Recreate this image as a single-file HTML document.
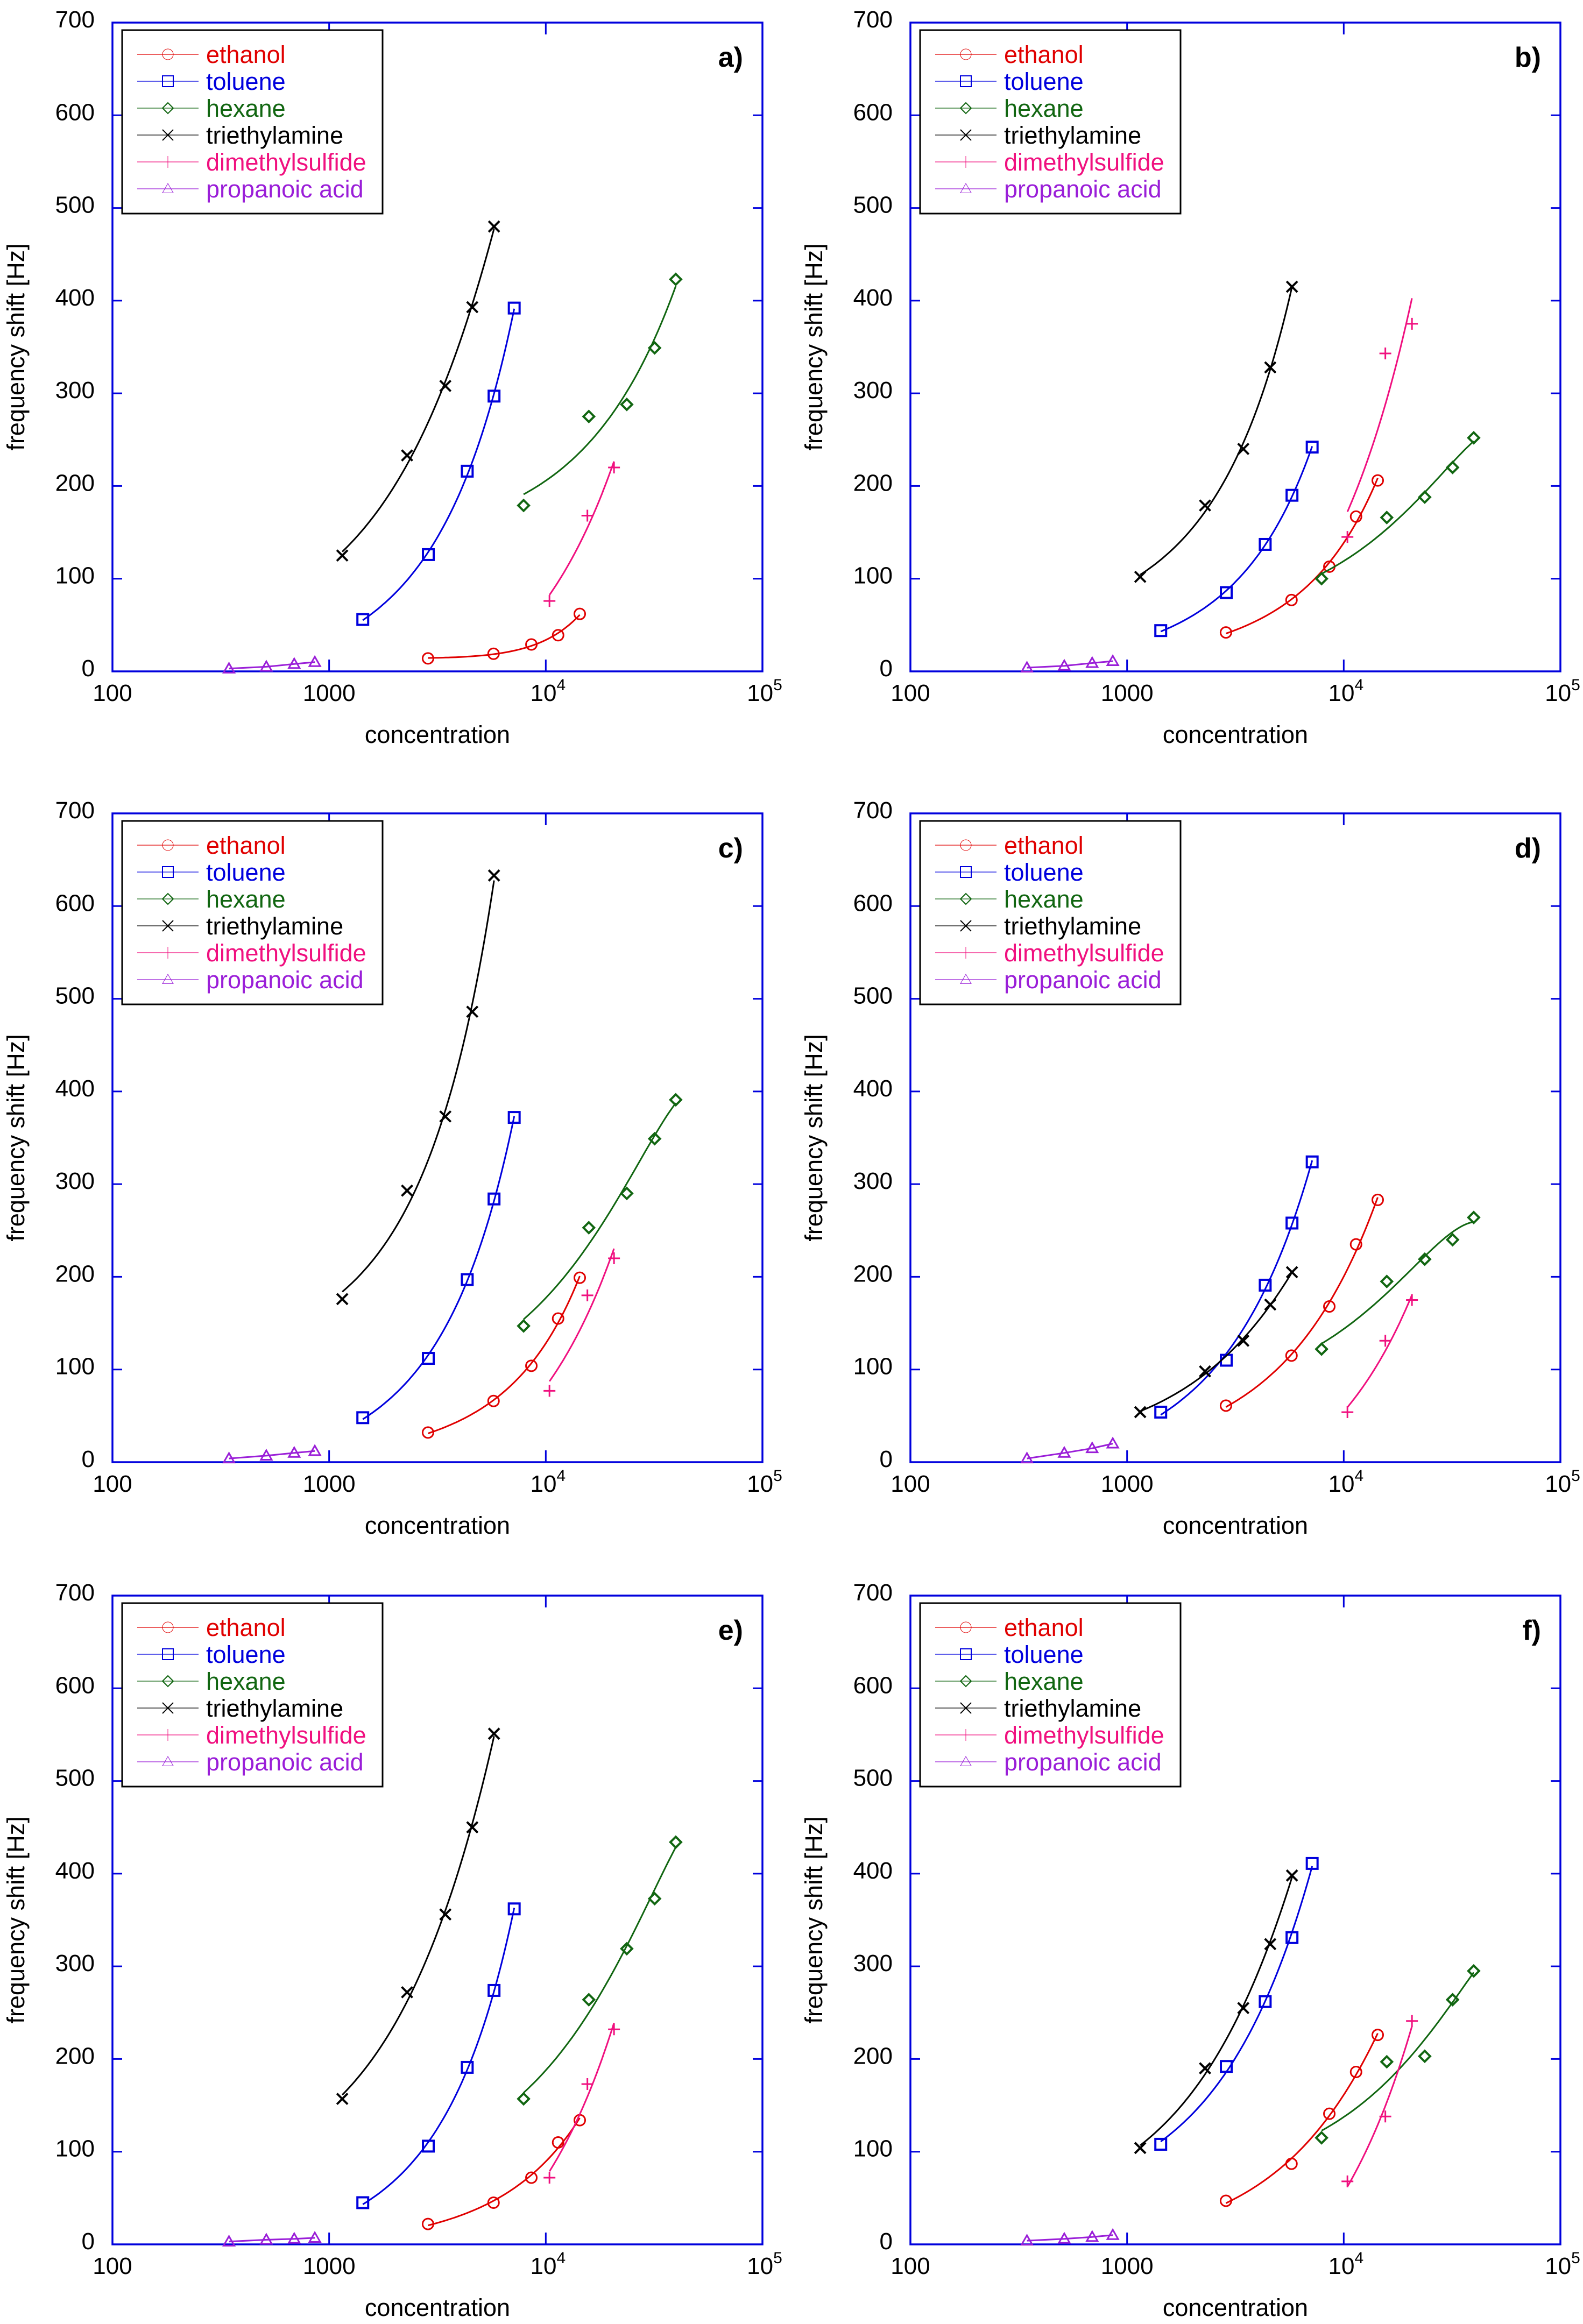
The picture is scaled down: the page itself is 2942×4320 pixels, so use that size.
<!DOCTYPE html>
<html><head><meta charset="utf-8"><style>
body{margin:0;background:#fff}
svg{display:block;font-family:"Liberation Sans",Arial,sans-serif}
</style></head><body>
<svg id="fig" width="2942" height="4320" viewBox="0 0 2942 4320" xmlns="http://www.w3.org/2000/svg"></svg>
<script>
const substances = ["ethanol","toluene","hexane","triethylamine","dimethylsulfide","propanoic acid"];
const colors = ["#e00000","#0000dd","#116611","#000000","#f0107f","#9a1ed8"];
const markers = ["circle","square","diamond","x","plus","triangle"];
const concEthanol = [2860,5740,8580,11400,14350];
const concToluene = [1430,2870,4340,5770,7150];
const concHexane = [7900,15800,23650,31800,39800];
const concTEA = [1150,2290,3440,4580,5770];
const concDMS = [10400,15560,20650];
const concProp = [345,513,690,859];
const panelLabels = ["a)","b)","c)","d)","e)","f)"];
// frequency shifts [Hz] per panel, order: ethanol, toluene, hexane, TEA, DMS, propanoic
const shiftA = [[14,19,29,39,62],[56,126,216,297,392],[179,275,288,349,423],[125,233,308,393,480],[76,168,220],[3,5,8,10]];
const shiftB = [[42,77,113,167,206],[44,85,137,190,242],[100,166,188,220,252],[102,179,240,328,415],[145,343,375],[4,6,9,11]];
const shiftC = [[32,66,104,155,199],[48,112,197,284,372],[147,253,290,349,391],[176,293,373,486,633],[77,180,220],[4,7,10,12]];
const shiftD = [[61,115,168,235,283],[54,110,191,258,324],[122,195,219,240,264],[54,98,131,170,205],[54,131,175],[4,10,15,20]];
const shiftE = [[22,45,72,110,134],[45,106,191,274,362],[157,264,319,373,434],[157,272,356,450,551],[72,173,232],[3,5,6,7]];
const shiftF = [[47,87,141,186,226],[108,192,262,331,411],[115,197,203,264,295],[104,190,255,324,398],[68,138,241],[4,6,8,10]];
const yTicks = [0,100,200,300,400,500,600,700];
const xTickLabels = ["100","1000","10^4","10^5"];

const concs = [concEthanol,concToluene,concHexane,concTEA,concDMS,concProp];
const panels = [shiftA,shiftB,shiftC,shiftD,shiftE,shiftF];
const NS = "http://www.w3.org/2000/svg";
const svg = document.getElementById("fig");
const W = 1208, H = 1206;
const lefts = [209,1692], tops = [42,1512,2966];

function mk(tag, attrs, parent){
  const e = document.createElementNS(NS, tag);
  for (const k in attrs) e.setAttribute(k, attrs[k]);
  (parent||svg).appendChild(e);
  return e;
}
function fitQuad(xs, ys){
  const n = xs.length;
  let S=[0,0,0,0,0], T=[0,0,0];
  for (let i=0;i<n;i++){ const t=xs[i]/1e4; let p=1; for(let k=0;k<5;k++){S[k]+=p; if(k<3)T[k]+=p*ys[i]; p*=t;} }
  const M=[[S[0],S[1],S[2],T[0]],[S[1],S[2],S[3],T[1]],[S[2],S[3],S[4],T[2]]];
  for (let i=0;i<3;i++){ for(let j=i+1;j<3;j++){ const f=M[j][i]/M[i][i]; for(let k=i;k<4;k++) M[j][k]-=f*M[i][k]; } }
  const c=[0,0,0];
  for (let i=2;i>=0;i--){ let s=M[i][3]; for(let k=i+1;k<3;k++) s-=M[i][k]*c[k]; c[i]=s/M[i][i]; }
  return t => c[0]+c[1]*t+c[2]*t*t;
}
function fitLin(xs, ys){
  const n = xs.length;
  let sx=0, sy=0, sxx=0, sxy=0;
  for (let i=0;i<n;i++){ const t=xs[i]/1e4, l=ys[i]; sx+=t; sy+=l; sxx+=t*t; sxy+=t*l; }
  const b = (n*sxy - sx*sy)/(n*sxx - sx*sx), a = (sy - b*sx)/n;
  return t => a + b*t;
}
function marker(g, type, x, y, col, r, sw){
  let e;
  if (type==="circle") e = mk("circle",{cx:x,cy:y,r:r,fill:"none",stroke:col,"stroke-width":sw},g);
  else if (type==="square") e = mk("rect",{x:x-r,y:y-r,width:2*r,height:2*r,fill:"none",stroke:col,"stroke-width":sw+1},g);
  else if (type==="diamond") e = mk("path",{d:`M${x} ${y-r}L${x+r} ${y}L${x} ${y+r}L${x-r} ${y}Z`,fill:"none",stroke:col,"stroke-width":sw+1},g);
  else if (type==="x") e = mk("path",{d:`M${x-r} ${y-r}L${x+r} ${y+r}M${x-r} ${y+r}L${x+r} ${y-r}`,stroke:col,"stroke-width":sw+1},g);
  else if (type==="plus") e = mk("path",{d:`M${x-r-1} ${y}L${x+r+1} ${y}M${x} ${y-r-1}L${x} ${y+r+1}`,stroke:col,"stroke-width":sw},g);
  else e = mk("path",{d:`M${x} ${y-r}L${x+r} ${y+r*0.75}L${x-r} ${y+r*0.75}Z`,fill:"none",stroke:col,"stroke-width":sw},g);
  return e;
}

panels.forEach((data, p) => {
  const L = lefts[p%2], T = tops[Math.floor(p/2)];
  const xs = v => L + (Math.log10(v) - 2) / 3 * W;
  const ys = v => T + H - v / 700 * H;
  const g = mk("g",{});
  
  
  const blue = "#0000dd";
  yTicks.forEach(v => {
    const y = ys(v);
    if (v>0 && v<700){
      mk("line",{x1:L,y1:y,x2:L+18,y2:y,stroke:blue,"stroke-width":3},g);
      mk("line",{x1:L+W,y1:y,x2:L+W-18,y2:y,stroke:blue,"stroke-width":3},g);
    }
    const t = mk("text",{x:L-33,y:y+9,"font-size":44,"text-anchor":"end",fill:"#000"},g);
    t.textContent = v;
    
    
  });
  xTickLabels.forEach((lab,i) => {
    const x = L + i*W/3;
    if (i>0 && i<3){
      mk("line",{x1:x,y1:T+H,x2:x,y2:T+H-22,stroke:blue,"stroke-width":3},g);
      mk("line",{x1:x,y1:T,x2:x,y2:T+22,stroke:blue,"stroke-width":3},g);
    }
    const t = mk("text",{x:x,y:T+H+55,"font-size":44,"text-anchor":"middle",fill:"#000"},g);
    
    
    if (lab.indexOf("^")>0){
      const [b,e] = lab.split("^");
      t.setAttribute("x", x+4);
      const s1 = mk("tspan",{},t); s1.textContent=b;
      const s2 = mk("tspan",{dy:-20,"font-size":30},t); s2.textContent=e;
    } else t.textContent = lab;
  });
  const fr = mk("rect",{x:L,y:T,width:W,height:H,fill:"none",stroke:blue,"stroke-width":3.5},g);
  
  
  const xt = mk("text",{x:L+W/2,y:T+H+133,"font-size":45,"text-anchor":"middle"},g);
  xt.textContent = "concentration";
  
  
  const yt = mk("text",{x:0,y:0,"font-size":45,"text-anchor":"middle",transform:`translate(${L-164},${T+H/2}) rotate(-90)`},g);
  yt.textContent = "frequency shift [Hz]";
  
  
  const pl = mk("text",{x:L+W-36,y:T+82,"font-size":52,"font-weight":"bold","text-anchor":"end"},g);
  pl.textContent = panelLabels[p];
  
  
  data.forEach((vals, s) => {
    const cx = concs[s], col = colors[s];
    const sg = mk("g",{},g);
    
    
    let d = "";
    if (s===5){
      cx.forEach((c,i)=>{ d += (i?"L":"M")+xs(c).toFixed(1)+" "+ys(vals[i]).toFixed(1); });
    } else {
      const f = cx.length < 5 ? fitLin(cx, vals) : fitQuad(cx, vals);
      const a = Math.log10(cx[0]), b = Math.log10(cx[cx.length-1]);
      for (let k=0;k<=60;k++){ const lx=a+(b-a)*k/60, c=Math.pow(10,lx); d += (k?"L":"M")+xs(c).toFixed(1)+" "+ys(f(c/1e4)).toFixed(1); }
    }
    const ln = mk("path",{d:d,fill:"none",stroke:col,"stroke-width":3},sg);
    
    
    cx.forEach((c,i)=>{
      const m = marker(sg, markers[s], xs(c), ys(vals[i]), col, 10, 3);
      
      
    });
  });
  const lg = mk("g",{},g);
  
  
  mk("rect",{x:L+18,y:T+14,width:484,height:341,fill:"#fff",stroke:"#000","stroke-width":3},lg);
  substances.forEach((name,s)=>{
    const y = T+59+s*50;
    const le = mk("g",{},lg);
    
    
    mk("line",{x1:L+46,y1:y,x2:L+160,y2:y,stroke:colors[s],"stroke-width":1.2},le);
    marker(le, markers[s], L+103, y, colors[s], 10, 1);
    const t = mk("text",{x:L+174,y:y+16,"font-size":45,fill:colors[s]},le);
    t.textContent = name;
  });
});
</script>
</body></html>
